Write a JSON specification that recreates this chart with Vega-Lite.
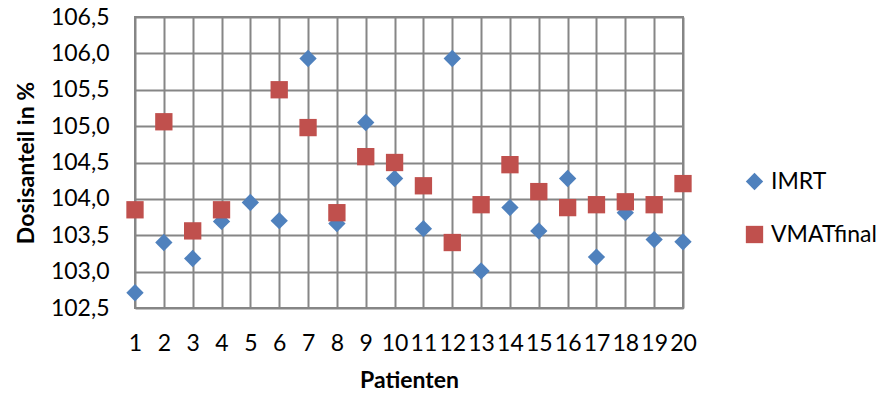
{
  "$schema": "https://vega.github.io/schema/vega-lite/v6.json",
  "autosize": "none",
  "width": 548,
  "height": 291,
  "padding": {"left": 135, "top": 17, "right": 200, "bottom": 87},
  "config": {
    "locale": {"number": {"decimal": ",", "thousands": ".", "grouping": [3], "currency": ["", " €"]}},
    "font": "Lato",
    "view": {"stroke": "#868686", "strokeWidth": 2},
    "axis": {"gridColor": "#868686", "gridWidth": 2, "gridOpacity": 1, "domain": false, "ticks": false, "labelColor": "#000000", "titleColor": "#000000", "labelFont": "Lato", "titleFont": "Lato", "labelFontSize": 23, "titleFontSize": 23, "titleFontWeight": "bold"}
  },
  "data": {
    "values": [
      {"Patient": 1, "Serie": "IMRT", "Wert": 102.71},
      {"Patient": 2, "Serie": "IMRT", "Wert": 103.40},
      {"Patient": 3, "Serie": "IMRT", "Wert": 103.18},
      {"Patient": 4, "Serie": "IMRT", "Wert": 103.69},
      {"Patient": 5, "Serie": "IMRT", "Wert": 103.95},
      {"Patient": 6, "Serie": "IMRT", "Wert": 103.70},
      {"Patient": 7, "Serie": "IMRT", "Wert": 105.93},
      {"Patient": 8, "Serie": "IMRT", "Wert": 103.66},
      {"Patient": 9, "Serie": "IMRT", "Wert": 105.05},
      {"Patient": 10, "Serie": "IMRT", "Wert": 104.28},
      {"Patient": 11, "Serie": "IMRT", "Wert": 103.59},
      {"Patient": 12, "Serie": "IMRT", "Wert": 105.93},
      {"Patient": 13, "Serie": "IMRT", "Wert": 103.01},
      {"Patient": 14, "Serie": "IMRT", "Wert": 103.88},
      {"Patient": 15, "Serie": "IMRT", "Wert": 103.56},
      {"Patient": 16, "Serie": "IMRT", "Wert": 104.28},
      {"Patient": 17, "Serie": "IMRT", "Wert": 103.20},
      {"Patient": 18, "Serie": "IMRT", "Wert": 103.81},
      {"Patient": 19, "Serie": "IMRT", "Wert": 103.44},
      {"Patient": 20, "Serie": "IMRT", "Wert": 103.41},
      {"Patient": 1, "Serie": "VMATfinal", "Wert": 103.85},
      {"Patient": 2, "Serie": "VMATfinal", "Wert": 105.06},
      {"Patient": 3, "Serie": "VMATfinal", "Wert": 103.56},
      {"Patient": 4, "Serie": "VMATfinal", "Wert": 103.85},
      {"Patient": 6, "Serie": "VMATfinal", "Wert": 105.50},
      {"Patient": 7, "Serie": "VMATfinal", "Wert": 104.98},
      {"Patient": 8, "Serie": "VMATfinal", "Wert": 103.81},
      {"Patient": 9, "Serie": "VMATfinal", "Wert": 104.58},
      {"Patient": 10, "Serie": "VMATfinal", "Wert": 104.50},
      {"Patient": 11, "Serie": "VMATfinal", "Wert": 104.18},
      {"Patient": 12, "Serie": "VMATfinal", "Wert": 103.40},
      {"Patient": 13, "Serie": "VMATfinal", "Wert": 103.92},
      {"Patient": 14, "Serie": "VMATfinal", "Wert": 104.47},
      {"Patient": 15, "Serie": "VMATfinal", "Wert": 104.10},
      {"Patient": 16, "Serie": "VMATfinal", "Wert": 103.88},
      {"Patient": 17, "Serie": "VMATfinal", "Wert": 103.92},
      {"Patient": 18, "Serie": "VMATfinal", "Wert": 103.96},
      {"Patient": 19, "Serie": "VMATfinal", "Wert": 103.92},
      {"Patient": 20, "Serie": "VMATfinal", "Wert": 104.21}
    ]
  },
  "mark": {"type": "point", "filled": true, "opacity": 1, "size": 300},
  "encoding": {
    "x": {
      "field": "Patient", "type": "quantitative",
      "scale": {"domain": [1, 20], "nice": false, "zero": false},
      "axis": {"values": [1,2,3,4,5,6,7,8,9,10,11,12,13,14,15,16,17,18,19,20], "title": "Patienten", "labelPadding": 24, "titlePadding": 14, "labelOverlap": false, "labelFlush": false}
    },
    "y": {
      "field": "Wert", "type": "quantitative",
      "scale": {"domain": [102.5, 106.5], "nice": false, "zero": false},
      "axis": {"values": [102.5,103,103.5,104,104.5,105,105.5,106,106.5], "format": ".1f", "title": "Dosisanteil  in %", "labelPadding": 26, "titlePadding": 12}
    },
    "color": {
      "field": "Serie", "type": "nominal",
      "scale": {"domain": ["IMRT", "VMATfinal"], "range": ["#4F81BD", "#C0504D"]},
      "legend": {"title": null, "orient": "none", "legendX": 608, "legendY": 153, "labelFontSize": 23, "labelFont": "Lato", "labelColor": "#000000", "symbolSize": 300, "rowPadding": 29, "labelOffset": 5, "symbolOpacity": 1}
    },
    "shape": {
      "field": "Serie", "type": "nominal",
      "scale": {"domain": ["IMRT", "VMATfinal"], "range": ["diamond", "square"]},
      "legend": null
    }
  }
}
